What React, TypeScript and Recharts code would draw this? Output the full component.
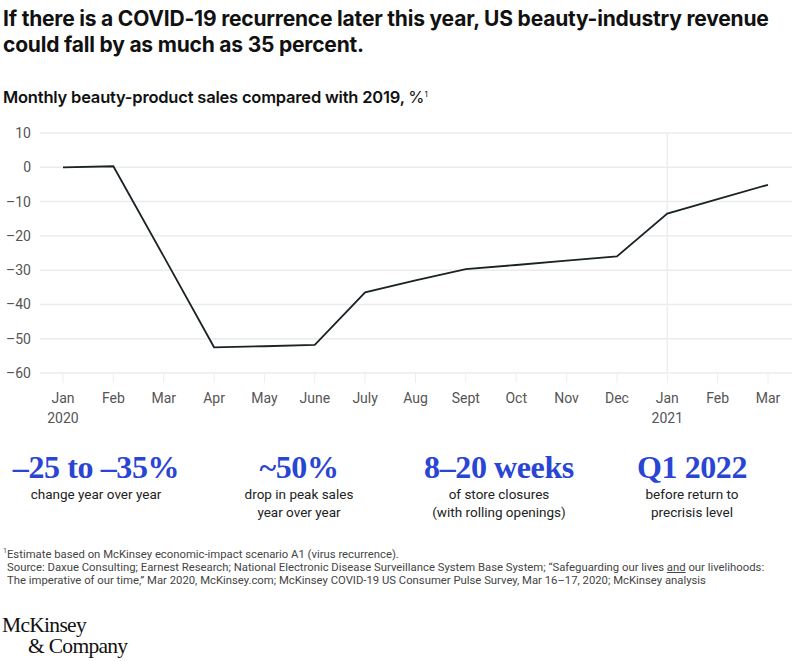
import { LineChart, Line, XAxis, YAxis, CartesianGrid, ReferenceLine } from 'recharts'

const months = ['Jan', 'Feb', 'Mar', 'Apr', 'May', 'June', 'July', 'Aug', 'Sept', 'Oct', 'Nov', 'Dec', 'Jan', 'Feb', 'Mar']
const years = ['2020', '', '', '', '', '', '', '', '', '', '', '', '2021', '', '']
const sales = [0, 0.3, -26, -52.5, -52.2, -51.8, -36.5, -33, -29.7, -28.5, -27.2, -26, -13.5, -9.3, -5.1]
const yTicks = [10, 0, -10, -20, -30, -40, -50, -60]

const stats = [
  { big: '\u201325 to \u201335%', lines: ['change year over year'], x: 96 },
  { big: '~50%', lines: ['drop in peak sales', 'year over year'], x: 299 },
  { big: '8\u201320 weeks', lines: ['of store closures', '(with rolling openings)'], x: 499 },
  { big: 'Q1 2022', lines: ['before return to', 'precrisis level'], x: 692 },
]

const data = months.map((m, i) => ({ id: `${m}-${i}`, sales: sales[i] }))

const sans = 'Roboto, "Noto Sans", sans-serif'
const head = 'Inter, Roboto, sans-serif'
const serif = '"Liberation Serif", "DejaVu Serif", serif'
const blue = '#2a45d4'

function MonthTick(props: any) {
  const { x, y, payload } = props
  const i = payload.index
  return (
    <text x={x} y={y} textAnchor="middle" fill="#555" fontSize={14} fontFamily={sans}>
      <tspan x={x} dy={12}>{months[i]}</tspan>
      {years[i] && <tspan x={x} dy={20}>{years[i]}</tspan>}
    </text>
  )
}

export default function App() {
  return (
    <div style={{ position: 'relative', width: 804, height: 661, background: '#fff', fontFamily: sans, color: '#111' }}>
      <style>{'body{margin:0}'}</style>
      <div style={{ position: 'absolute', left: 3, top: 6, fontFamily: head, fontSize: 21, fontWeight: 700, lineHeight: '26px', letterSpacing: -0.2, width: 800, whiteSpace: 'nowrap' }}>
        If there is a COVID-19 recurrence later this year, US beauty-industry revenue<br />
        could fall by as much as 35 percent.
      </div>
      <div style={{ position: 'absolute', left: 3, top: 87, fontFamily: head, fontSize: 16.5, fontWeight: 600, letterSpacing: -0.2, whiteSpace: 'nowrap' }}>
        Monthly beauty-product sales compared with 2019, <span style={{ fontWeight: 400 }}>%<sup style={{ fontSize: 8 }}>1</sup></span>
      </div>

      <div style={{ position: 'absolute', left: 0, top: 0 }}>
        <LineChart width={804} height={430} data={data} margin={{ top: 133, right: 12, left: 0, bottom: 0 }}>
          <CartesianGrid vertical={false} stroke="#ececec" strokeWidth={1.5} />
          <ReferenceLine x={data[12].id} stroke="#eeeeee" strokeWidth={1.5} />
          <XAxis
            dataKey="id"
            height={57}
            interval={0}
            padding={{ left: 23, right: 24 }}
            axisLine={false}
            tickLine={{ stroke: '#eeeeee' }}
            tickSize={10}
            tickMargin={8}
            tick={<MonthTick />}
          />
          <YAxis
            width={40}
            domain={[-60, 10]}
            ticks={yTicks}
            axisLine={false}
            tickLine={false}
            tickSize={0}
            tickMargin={9}
            tick={{ fill: '#555', fontSize: 14, fontFamily: sans }}
            tickFormatter={(v: number) => String(v).replace('-', '\u2013')}
          />
          <Line type="linear" dataKey="sales" stroke="#1a2226" strokeWidth={1.8} dot={false} isAnimationActive={false} />
        </LineChart>
      </div>

      {stats.map((s) => (
        <div key={s.big} style={{ position: 'absolute', left: s.x - 110, top: 449, width: 220, textAlign: 'center' }}>
          <div style={{ fontFamily: serif, fontSize: 32, fontWeight: 700, color: blue, lineHeight: '36px', letterSpacing: -0.4 }}>{s.big}</div>
          {s.lines.map((l) => (
            <div key={l} style={{ fontSize: 13.5, lineHeight: '18px', color: '#222' }}>{l}</div>
          ))}
        </div>
      ))}

      <div style={{ position: 'absolute', left: 3, top: 545, fontSize: 11.3, lineHeight: '13.3px', color: '#444', width: 800, whiteSpace: 'nowrap' }}>
        <div><sup style={{ fontSize: 7 }}>1</sup>Estimate based on McKinsey economic-impact scenario A1 (virus recurrence).</div>
        <div style={{ paddingLeft: 4 }}>
          Source: Daxue Consulting; Earnest Research; National Electronic Disease Surveillance System Base System; “Safeguarding our lives <u>and</u> our livelihoods:
        </div>
        <div style={{ paddingLeft: 4 }}>
          The imperative of our time,” Mar 2020, McKinsey.com; McKinsey COVID-19 US Consumer Pulse Survey, Mar 16–17, 2020; McKinsey analysis
        </div>
      </div>

      <div style={{ position: 'absolute', left: 2, top: 615, fontFamily: serif, fontSize: 21.5, lineHeight: '21px', color: '#111', letterSpacing: -0.7 }}>
        <div>McKinsey</div>
        <div style={{ paddingLeft: 26 }}>&amp; Company</div>
      </div>
    </div>
  )
}
